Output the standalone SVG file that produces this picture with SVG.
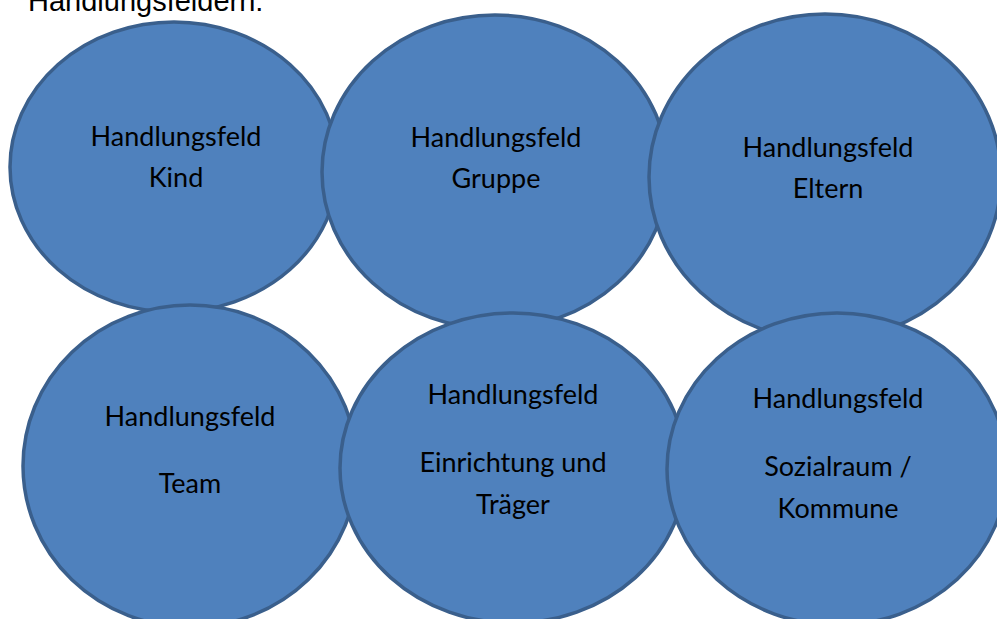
<svg xmlns="http://www.w3.org/2000/svg" width="997" height="619" viewBox="0 0 997 619">
<style>
.n{fill:#4F81BD;stroke:#3A5F8C;stroke-width:3.5}
.t{font-family:Lato,"Open Sans","Liberation Sans",sans-serif;font-size:27px;fill:#000;text-anchor:middle}
.h{font-family:"Liberation Sans",Arial,sans-serif;font-size:29px;fill:#000}
</style>
<rect width="997" height="619" fill="#fff"/>
<text class="h" x="28" y="11">Handlungsfeldern:</text>
<g id="kind"><ellipse class="n" cx="174" cy="167" rx="164" ry="145"/><text class="t" x="176" y="146">Handlungsfeld</text><text class="t" x="176" y="187">Kind</text></g>
<g id="gruppe"><ellipse class="n" cx="495" cy="172" rx="173" ry="157"/><text class="t" x="496" y="147">Handlungsfeld</text><text class="t" x="496" y="188">Gruppe</text></g>
<g id="eltern"><ellipse class="n" cx="825" cy="177" rx="176" ry="163"/><text class="t" x="828" y="157">Handlungsfeld</text><text class="t" x="828" y="198">Eltern</text></g>
<g id="team"><ellipse class="n" cx="190" cy="466" rx="167" ry="161"/><text class="t" x="190" y="426">Handlungsfeld</text><text class="t" x="190" y="493">Team</text></g>
<g id="einrichtung"><ellipse class="n" cx="513" cy="468" rx="173" ry="155"/><text class="t" x="513" y="404">Handlungsfeld</text><text class="t" x="513" y="472">Einrichtung und</text><text class="t" x="513" y="514">Träger</text></g>
<g id="sozialraum"><ellipse class="n" cx="837" cy="469" rx="170" ry="156"/><text class="t" x="838" y="408">Handlungsfeld</text><text class="t" x="838" y="476">Sozialraum /</text><text class="t" x="838" y="518">Kommune</text></g>
<g id="connectors"></g>
</svg>
